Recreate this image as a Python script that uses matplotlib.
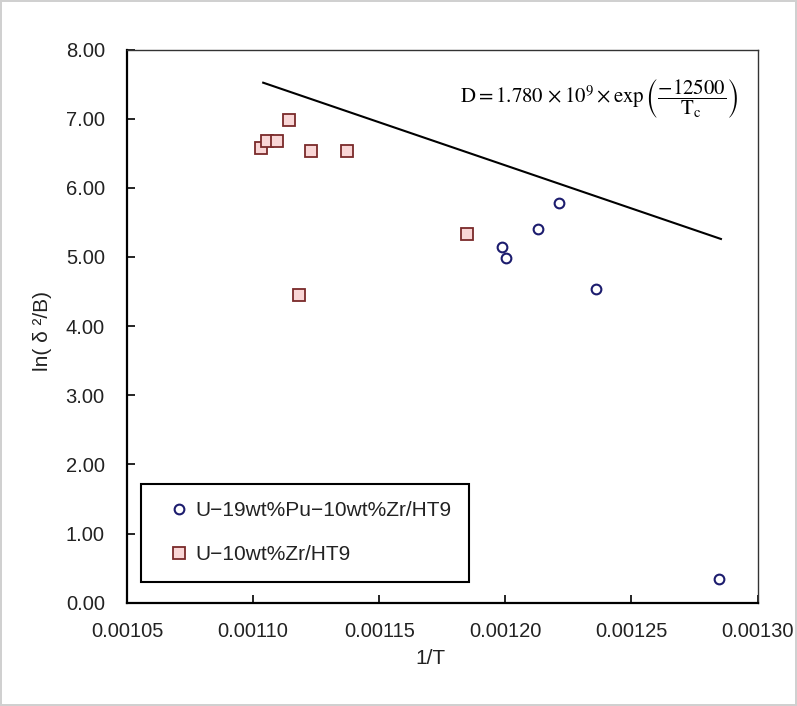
import matplotlib
matplotlib.use("Agg")
import matplotlib.pyplot as plt
from matplotlib.ticker import FixedLocator, FormatStrFormatter

# --- data ---
upu_x = [0.0012214, 0.0012129, 0.0011988, 0.0012004, 0.0012361, 0.0012849]
upu_y = [5.785, 5.41, 5.15, 4.99, 4.53, 0.345]

uzr_x = [0.001103, 0.0011054, 0.0011095, 0.0011141, 0.001123, 0.0011373, 0.0011181, 0.0011847]
uzr_y = [6.57, 6.68, 6.68, 6.98, 6.53, 6.53, 4.45, 5.33]

fit_x = [0.001104, 0.0012855]
fit_y = [7.52, 5.26]

xticks = [0.00105, 0.00110, 0.00115, 0.00120, 0.00125, 0.00130]
yticks = [0, 1, 2, 3, 4, 5, 6, 7, 8]

label_upu = "U\u221219wt%Pu\u221210wt%Zr/HT9"
label_uzr = "U\u221210wt%Zr/HT9"

plt.rcParams['font.family'] = ['Liberation Sans', 'DejaVu Sans']
plt.rcParams['mathtext.fontset'] = 'stix'

W, H = 797, 706
fig = plt.figure(figsize=(W/100, H/100), dpi=100)
fig.patch.set_edgecolor('#d0d0d0')
fig.patch.set_linewidth(1.5)
L, R, T, B = 127, 757.5, 49.5, 602.7
ax = fig.add_axes([L/W, 1 - B/H, (R-L)/W, (B-T)/H])

ax.plot(fit_x, fit_y, color='black', lw=1.5, zorder=2)
ax.plot(upu_x, upu_y, 'o', ms=7, mfc='white', mec='#1c1c6e', mew=1.5,
        label=label_upu, zorder=3)
ax.plot(uzr_x, uzr_y, 's', ms=8, mfc='#f9d6d6', mec='#7a2a2a', mew=1.3,
        label=label_uzr, zorder=3)

ax.set_xlim(0.00105, 0.00130)
ax.set_ylim(0, 8)
ax.xaxis.set_major_locator(FixedLocator(xticks))
ax.yaxis.set_major_locator(FixedLocator(yticks))
ax.xaxis.set_major_formatter(FormatStrFormatter('%.5f'))
ax.yaxis.set_major_formatter(FormatStrFormatter('%.2f'))
ax.tick_params(axis='both', direction='in', length=6, width=1.2, labelsize=14.5,
               colors='black', labelcolor='#222222')
ax.tick_params(axis='y', pad=16)
ax.tick_params(axis='x', pad=14)
ax.spines['left'].set_linewidth(1.6)
ax.spines['bottom'].set_linewidth(1.6)
ax.spines['top'].set_linewidth(1.0)
ax.spines['right'].set_linewidth(1.0)
ax.spines['top'].set_color('#333333')
ax.spines['right'].set_color('#333333')

fig.text(430/W, 1 - 658/H, '1/T', fontsize=15, ha='center', va='center', color='#222222')
fig.text(43/W, 1 - 331/H, 'ln( δ ²/B)', fontsize=15, ha='center', va='center',
         rotation=90, color='#222222')

fig.text(460/W, 1 - 99/H,
         r'$\mathrm{D} = 1.780\,\times 10^{9} \times \exp\left(\dfrac{-12500}{\mathrm{T_c}}\right)$',
         fontsize=15, va='center', ha='left')

leg = ax.legend(loc='lower left', bbox_to_anchor=((141-L)/(R-L), (B-582)/(B-T)), fontsize=15,
                frameon=True, fancybox=False, edgecolor='black', framealpha=1,
                handletextpad=-0.2, handlelength=1.96, labelspacing=1.2,
                borderpad=0.85, borderaxespad=0)
leg.get_frame().set_linewidth(1.5)
for t in leg.get_texts():
    t.set_color('#222222')

fig.savefig('out.png', dpi=100)
